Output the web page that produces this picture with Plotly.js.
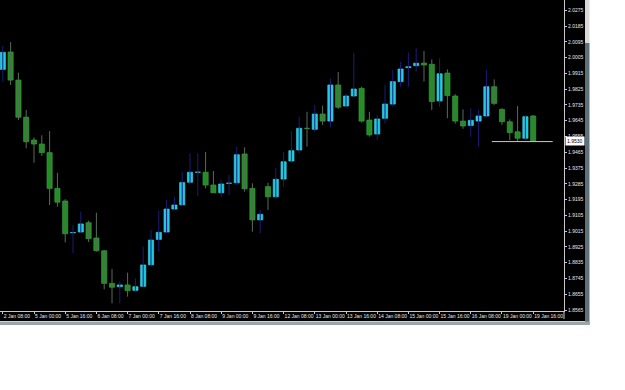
<!DOCTYPE html>
<html>
<head>
<meta charset="utf-8">
<script src="https://cdn.plot.ly/plotly-3.0.1.min.js"></script>
<style>html,body{margin:0;padding:0;background:#fff;}#chart{width:625px;height:390px;}</style>
</head>
<body>
<div id="chart"></div>
<script>
// H4 bar times (categories)
const times = [
 "2 Jan 08:00","2 Jan 12:00","2 Jan 16:00","2 Jan 20:00",
 "5 Jan 00:00","5 Jan 04:00","5 Jan 08:00","5 Jan 12:00","5 Jan 16:00","5 Jan 20:00",
 "6 Jan 00:00","6 Jan 04:00","6 Jan 08:00","6 Jan 12:00","6 Jan 16:00","6 Jan 20:00",
 "7 Jan 00:00","7 Jan 04:00","7 Jan 08:00","7 Jan 12:00","7 Jan 16:00","7 Jan 20:00",
 "8 Jan 00:00","8 Jan 04:00","8 Jan 08:00","8 Jan 12:00","8 Jan 16:00","8 Jan 20:00",
 "9 Jan 00:00","9 Jan 04:00","9 Jan 08:00","9 Jan 12:00","9 Jan 16:00","9 Jan 20:00",
 "12 Jan 00:00","12 Jan 04:00","12 Jan 08:00","12 Jan 12:00","12 Jan 16:00","12 Jan 20:00",
 "13 Jan 00:00","13 Jan 04:00","13 Jan 08:00","13 Jan 12:00","13 Jan 16:00","13 Jan 20:00",
 "14 Jan 00:00","14 Jan 04:00","14 Jan 08:00","14 Jan 12:00","14 Jan 16:00","14 Jan 20:00",
 "15 Jan 00:00","15 Jan 04:00","15 Jan 08:00","15 Jan 12:00","15 Jan 16:00","15 Jan 20:00",
 "16 Jan 00:00","16 Jan 04:00","16 Jan 08:00","16 Jan 12:00","16 Jan 16:00","16 Jan 20:00",
 "19 Jan 00:00","19 Jan 04:00","19 Jan 08:00","19 Jan 12:00","19 Jan 16:00"
];
const openP = [1.9938,2.0037,1.9877,1.9665,1.9535,1.9512,1.9463,1.9259,1.9187,1.9006,
 1.9010,1.9063,1.8976,1.8903,1.8717,1.8698,1.8708,1.8677,1.8700,1.8823,
 1.8968,1.9010,1.9141,1.9165,1.9294,1.9351,1.9351,1.9278,1.9234,1.9288,
 1.9291,1.9455,1.9259,1.9079,1.9269,1.9211,1.9312,1.9415,1.9478,1.9602,
 1.9596,1.9683,1.9643,1.9849,1.9729,1.9786,1.9830,1.9649,1.9569,1.9659,
 1.9740,1.9868,1.9948,1.9959,1.9974,1.9967,1.9758,1.9917,1.9786,1.9643,
 1.9618,1.9643,1.9672,1.9839,1.9710,1.9639,1.9582,1.9545,1.9672];
const highP = [2.0071,2.0094,1.9919,1.9706,1.9550,1.9562,1.9586,1.9348,1.9197,1.9050,
 1.9126,1.9075,1.9120,1.8907,1.8799,1.8727,1.8778,1.8746,1.8926,1.9021,
 1.9132,1.9193,1.9211,1.9354,1.9459,1.9459,1.9467,1.9358,1.9307,1.9335,
 1.9497,1.9493,1.9288,1.9136,1.9291,1.9374,1.9465,1.9586,1.9668,1.9696,
 1.9735,1.9731,1.9887,1.9923,1.9801,2.0030,1.9839,1.9696,1.9678,1.9849,
 1.9934,1.9982,2.0033,2.0058,2.0043,1.9995,2.0001,1.9938,1.9797,1.9710,
 1.9716,1.9706,1.9934,1.9881,1.9716,1.9653,1.9729,1.9678,1.9678];
const lowP = [1.9868,1.9849,1.9649,1.9488,1.9405,1.9444,1.9164,1.9154,1.8951,1.8889,
 1.9003,1.8953,1.8898,1.8683,1.8603,1.8603,1.8641,1.8669,1.8694,1.8812,
 1.8898,1.9003,1.9136,1.9158,1.9284,1.9215,1.9259,1.9232,1.9208,1.9221,
 1.9278,1.9240,1.9012,1.9003,1.9136,1.9208,1.9269,1.9409,1.9459,1.9497,
 1.9582,1.9621,1.9607,1.9712,1.9725,1.9782,1.9634,1.9554,1.9535,1.9630,
 1.9725,1.9839,1.9839,1.9925,1.9868,1.9706,1.9725,1.9659,1.9628,1.9599,
 1.9554,1.9497,1.9666,1.9735,1.9621,1.9535,1.9525,1.9535,1.9528];
const closeP = [2.0035,1.9877,1.9665,1.9525,1.9512,1.9463,1.9259,1.9180,1.9000,1.9007,
 1.9056,1.8972,1.8903,1.8717,1.8695,1.8708,1.8675,1.8698,1.8822,1.8964,
 1.9008,1.9141,1.9164,1.9292,1.9351,1.9352,1.9278,1.9234,1.9284,1.9289,
 1.9451,1.9257,1.9079,1.9111,1.9211,1.9311,1.9411,1.9474,1.9602,1.9601,
 1.9683,1.9643,1.9849,1.9722,1.9786,1.9826,1.9643,1.9564,1.9655,1.9740,
 1.9868,1.9940,1.9953,1.9973,1.9963,1.9754,1.9913,1.9788,1.9643,1.9615,
 1.9647,1.9672,1.9839,1.9744,1.9639,1.9577,1.9545,1.9668,1.9530];
const tickLabels = ["2 Jan 08:00","5 Jan 00:00","5 Jan 16:00","6 Jan 08:00","7 Jan 00:00","7 Jan 16:00",
 "8 Jan 08:00","9 Jan 00:00","9 Jan 16:00","12 Jan 08:00","13 Jan 00:00","13 Jan 16:00",
 "14 Jan 08:00","15 Jan 00:00","15 Jan 16:00","16 Jan 08:00","19 Jan 00:00","19 Jan 16:00"];
const priceTicks = [1.8565,1.8655,1.8745,1.8835,1.8925,1.9015,1.9105,1.9195,1.9285,1.9375,
 1.9465,1.9555,1.9645,1.9735,1.9825,1.9915,2.0005,2.0095,2.0185,2.0275];
const levelLineX = [62.7, 70.5];
const levelLineY = [1.9526, 1.9526];

const xs = times.map((t, i) => i);
const bodyBase = openP.map((o, i) => Math.min(o, closeP[i]));
const bodyLen = openP.map((o, i) => Math.abs(closeP[i] - o));
const isUp = openP.map((o, i) => closeP[i] > o);
const CYAN = '#1ec8e0', GREEN = '#238c26';
const lastClose = closeP[closeP.length - 1];

const traces = [
 {type:'ohlc', x:xs, open:openP, high:highP, low:lowP, close:closeP, tickwidth:0,
  increasing:{line:{color:'#1c1c7a', width:1}},
  decreasing:{line:{color:'#566e56', width:1}},
  hoverinfo:'skip', showlegend:false},
 {type:'bar', x:xs, base:bodyBase, y:bodyLen, width:0.66,
  marker:{color:isUp.map(u => u ? CYAN : GREEN),
          line:{color:isUp.map(u => u ? '#3fd3e8' : '#35a03a'), width:0.7}},
  hoverinfo:'skip', showlegend:false},
 {type:'scatter', mode:'lines', x:levelLineX, y:levelLineY,
  line:{color:'#c9c9c9', width:1}, hoverinfo:'skip', showlegend:false}
];

const AX = '#c8c8c8';
const FONT = {family:'Liberation Sans, Arial, sans-serif', size:5, color:'#e8e8e8'};
const layout = {
 width:625, height:390,
 margin:{l:0, r:61, t:0, b:79, pad:0},
 paper_bgcolor:'#ffffff', plot_bgcolor:'#000000',
 showlegend:false, barmode:'overlay',
 xaxis:{range:[-0.36, 71.95], rangeslider:{visible:false}, showgrid:false, zeroline:false,
  showline:true, linecolor:AX, linewidth:1, ticks:'outside', ticklen:2, tickcolor:AX,
  tickvals:tickLabels.map(l => times.indexOf(l)), ticktext:tickLabels,
  ticklabelposition:'outside right', tickfont:FONT, tickangle:0, fixedrange:true},
 yaxis:{side:'right', range:[1.85593, 2.03338], showgrid:false, zeroline:false,
  showline:true, linecolor:AX, linewidth:1, ticks:'outside', ticklen:2, tickcolor:AX,
  tickvals:priceTicks, ticktext:priceTicks.map(v => v.toFixed(4)), tickfont:FONT, fixedrange:true},
 shapes:[
  {type:'rect', xref:'paper', yref:'paper', x0:0, x1:585/564, y0:1, y1:-10/311,
   fillcolor:'#000000', line:{width:0}, layer:'below'},
  {type:'line', xref:'paper', yref:'paper', x0:1, x1:1, y0:0, y1:-8/311,
   line:{color:AX, width:1}, layer:'above'},
  {type:'rect', xref:'paper', yref:'paper', x0:585/564, x1:589.5/564, y0:1, y1:1-43/311,
   fillcolor:'#d9d9d9', line:{width:0}},
  {type:'rect', xref:'paper', yref:'paper', x0:585/564, x1:589.5/564, y0:1-43/311, y1:-14/311,
   fillcolor:'#5f7178', line:{width:0}},
  {type:'rect', xref:'paper', yref:'paper', x0:0, x1:589.5/564, y0:-10.5/311, y1:-14/311,
   fillcolor:'#9aa6aa', line:{width:0}}
 ],
 annotations:[
  {xref:'paper', x:1, xanchor:'left', xshift:1, yref:'y', y:lastClose, yanchor:'middle',
   text:lastClose.toFixed(4), showarrow:false, bgcolor:'#ffffff', borderpad:1,
   font:{family:'Liberation Sans, Arial, sans-serif', size:5, color:'#000000'}}
 ]
};
Plotly.newPlot('chart', traces, layout, {staticPlot:true, displayModeBar:false});
</script>
</body>
</html>
